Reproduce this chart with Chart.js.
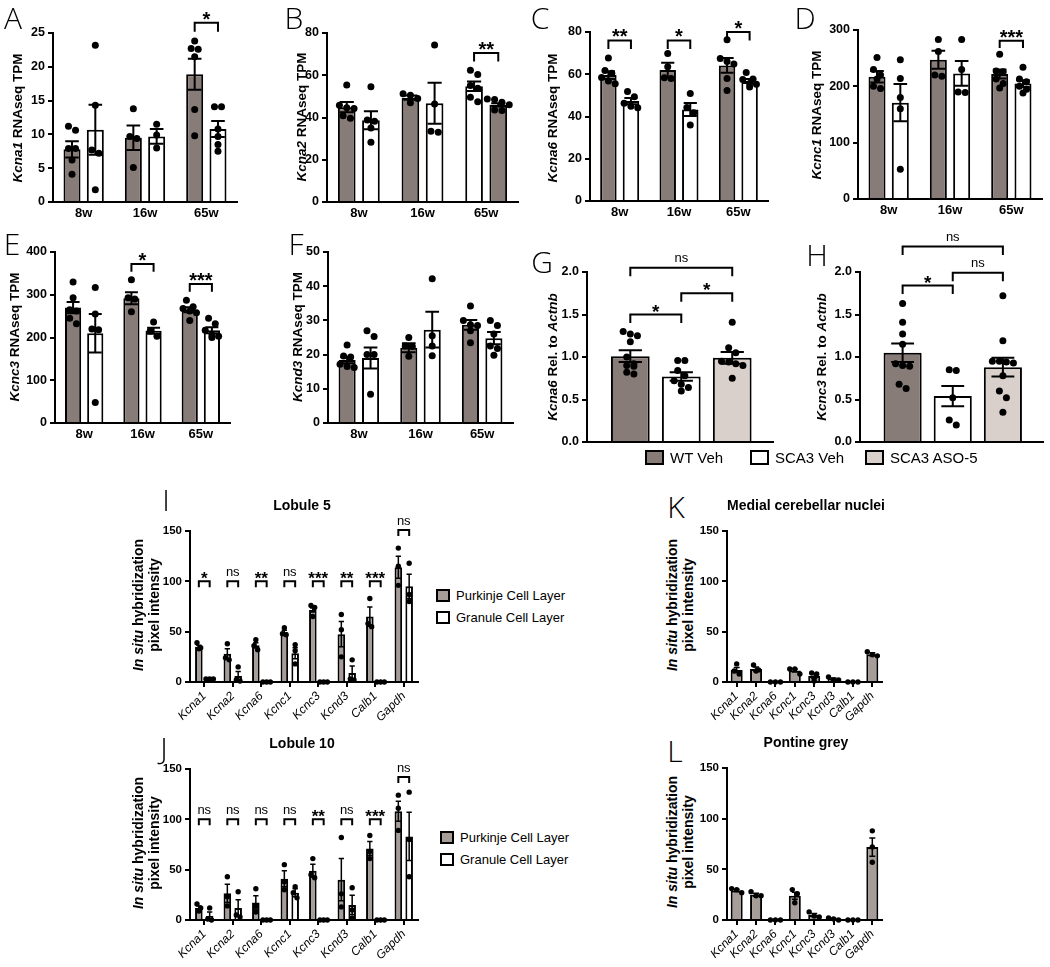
<!DOCTYPE html>
<html>
<head>
<meta charset="utf-8">
<script src="https://cdn.jsdelivr.net/npm/chart.js@4.4.1/dist/chart.umd.min.js"></script>
<style>
  body { margin: 0; background: #fff; }
  #fig { position: relative; width: 1050px; height: 967px; overflow: hidden; background: #fff;
         font-family: 'Liberation Sans', Arial, Helvetica, sans-serif; color: #000; }
  #fig canvas { position: absolute; }
  .lbl { position: absolute; transform: translate(-50%, -50%); white-space: nowrap; line-height: 1; }
  .letter { font-family: 'Open Sans', 'DejaVu Sans', sans-serif; font-weight: 300; font-size: 30px; }
  .ytitle { font-weight: bold; font-size: 13.5px; }
  .ytitle2 { font-weight: bold; font-size: 14px; line-height: 1.15; text-align: center; }
  .ptitle { font-weight: bold; font-size: 14px; }
  .lgbox { position: absolute; box-sizing: border-box; border: 2px solid #000; }
  .lgtxt { position: absolute; transform: translateY(-50%); white-space: nowrap; line-height: 1; }
</style>
</head>
<body>
<div id="fig"></div>
<script>
// ---- data ----
const ageLabels = ['8w', '16w', '65w'];

// A  Kcna1
const kcna1WtMean = [7.8, 9.5, 18.9];
const kcna1WtSem = [1.2, 1.8, 2.3];
const kcna1WtPts = [[11.2, 10.6, 7.9, 7.9, 6.2, 4.1], [13.8, 9.7, 9.4, 5.1], [23.8, 22.7, 22.6, 21.5, 13.7, 9.8]];
const kcna1ScaMean = [10.7, 9.7, 10.8];
const kcna1ScaSem = [3.7, 1.1, 1.2];
const kcna1ScaPts = [[23.2, 14.3, 7.7, 7.2, 1.8], [11.5, 9.9, 8.0], [14.1, 14.1, 10.8, 9.7, 8.5, 7.5]];

// B  Kcna2
const kcna2WtMean = [44.9, 49.4, 54.8];
const kcna2WtSem = [2.4, 1.0, 2.3];
const kcna2WtPts = [[55.4, 45.8, 44.6, 44.3, 40.8, 39.6], [51.2, 50.5, 49.0, 47.0], [62.4, 60.3, 55.2, 53.8, 49.6, 47.5]];
const kcna2ScaMean = [38.7, 46.8, 46.0];
const kcna2ScaSem = [4.3, 9.7, 0.8];
const kcna2ScaPts = [[54.5, 38.8, 38.2, 35.0, 28.3], [74.3, 46.4, 33.5, 33.0], [48.8, 48.5, 47.2, 46.0, 43.5, 43.3]];

// C  Kcna6
const kcna6WtMean = [59.6, 62.0, 64.2];
const kcna6WtSem = [1.8, 3.5, 3.5];
const kcna6WtPts = [[67.7, 61.8, 60.5, 58.5, 56.8, 55.5], [69.8, 63.5, 58.3, 58.0], [76.3, 67.5, 66.0, 64.8, 58.0, 52.3]];
const kcna6ScaMean = [47.3, 43.3, 56.8];
const kcna6ScaSem = [1.5, 3.1, 1.0];
const kcna6ScaPts = [[51.8, 49.3, 46.3, 44.8, 44.2], [50.9, 44.3, 41.8, 36.0], [60.8, 57.8, 57.5, 55.6, 55.3, 54.0]];

// D  Kcnc1
const kcnc1WtMean = [217, 247, 222];
const kcnc1WtSem = [10, 16, 8];
const kcnc1WtPts = [[251, 230, 220, 213, 200, 196], [283, 262, 220, 218], [257, 227, 226, 213, 205, 197]];
const kcnc1ScaMean = [171, 223, 205];
const kcnc1ScaSem = [33, 22, 6];
const kcnc1ScaPts = [[247, 214, 180, 160, 53], [283, 230, 190, 189], [234, 213, 208, 200, 195, 188]];

// E  Kcnc3
const kcnc3WtMean = [270, 292, 265];
const kcnc3WtSem = [13, 14, 6];
const kcnc3WtPts = [[330, 293, 265, 262, 245, 232], [335, 293, 290, 260], [287, 272, 268, 262, 258, 240]];
const kcnc3ScaMean = [210, 216, 217];
const kcnc3ScaSem = [45, 7, 7];
const kcnc3ScaPts = [[317, 255, 220, 218, 48], [236, 215, 203], [245, 232, 217, 206, 203, 200]];

// F  Kcnd3
const kcnd3WtMean = [18.4, 22.0, 28.7];
const kcnd3WtSem = [0.9, 1.3, 1.4];
const kcnd3WtPts = [[22.8, 19.6, 19.3, 17.2, 16.5, 16.2], [25.0, 22.5, 22.4, 19.5], [34.2, 30.0, 28.7, 28.5, 27.0, 23.5]];
const kcnd3ScaMean = [19.0, 27.3, 24.8];
const kcnd3ScaSem = [3.1, 5.2, 1.8];
const kcnd3ScaPts = [[27.0, 25.3, 20.0, 20.0, 8.4], [42.2, 25.5, 22.5, 19.7], [30.0, 28.5, 26.0, 22.5, 21.8, 19.8]];

// G / H  qPCR
const treatLabels = ['WT  Veh', 'SCA3  Veh', 'SCA3 ASO-5'];
const gMean = [1.01, 0.77, 0.99];
const gSem = [0.07, 0.05, 0.07];
const gPts = [[1.30, 1.27, 1.25, 1.18, 1.00, 0.92, 0.90, 0.89, 0.82, 0.80], [0.96, 0.96, 0.84, 0.78, 0.72, 0.68, 0.64, 0.60], [1.41, 1.11, 1.05, 0.95, 0.94, 0.92, 0.90, 0.75]];
const hMean = [1.05, 0.54, 0.88];
const hSem = [0.11, 0.12, 0.11];
const hPts = [[1.63, 1.41, 1.27, 1.15, 0.92, 0.90, 0.89, 0.68, 0.63], [0.85, 0.84, 0.52, 0.26, 0.20], [1.72, 1.19, 0.95, 0.95, 0.94, 0.93, 0.78, 0.60, 0.52, 0.35]];

// I-L  in situ
const geneLabels = ['Kcna1', 'Kcna2', 'Kcna6', 'Kcnc1', 'Kcnc3', 'Kcnd3', 'Calb1', 'Gapdh'];
const lob5PclMean = [35, 28, 36.5, 49.5, 71.5, 47.5, 65, 114];
const lob5PclSem = [1.5, 5, 2.5, 2, 2, 12.5, 9.5, 11];
const lob5PclPts = [[39, 34, 33], [38, 24, 22], [42, 36, 32], [54, 48, 47], [76, 74, 65], [67, 52, 25], [83, 58, 55], [133, 115, 96]];
const lob5GclMean = [3, 6, 0, 28.5, 0, 9, 0, 95];
const lob5GclSem = [0.5, 4.5, 0, 5.5, 0, 7, 0, 12];
const lob5GclPts = [[3, 3, 3], [15, 2, 1], [0, 0, 0], [37, 31, 18], [0, 0, 0], [22, 3, 2], [0, 0, 0], [118, 87, 80]];
const lob5Sig = ['*', 'ns', '**', 'ns', '***', '**', '***', 'ns'];

const lob10PclMean = [12, 26.5, 17.5, 41, 49, 40, 71, 108];
const lob10PclSem = [2, 9, 6.5, 8, 6.5, 21, 7, 10];
const lob10PclPts = [[16, 12, 9], [43, 23, 14], [31, 14, 8], [55, 38, 30], [61, 45, 42], [82, 26, 13], [84, 68, 61], [124, 111, 89]];
const lob10GclMean = [4, 12, 0, 27, 0, 15, 0, 83];
const lob10GclSem = [4, 8, 0, 4, 0, 9.5, 0, 24];
const lob10GclPts = [[12, 1, 0], [28, 5, 3], [0, 0, 0], [33, 27, 22], [0, 0, 0], [32, 10, 2], [0, 0, 0], [127, 80, 43]];
const lob10Sig = ['ns', 'ns', 'ns', 'ns', '**', 'ns', '***', 'ns'];

const mcnMean = [12, 13, 0, 11.5, 6, 3, 0, 27.5];
const mcnSem = [2.5, 2, 0, 1.5, 2.5, 1, 0, 1.5];
const mcnPts = [[18, 11, 8], [17, 12, 11], [0, 0, 0], [13, 13, 8], [9, 8, 1], [5, 2, 2], [0, 0, 0], [30, 27, 26]];

const pgMean = [29, 25, 0, 24, 5, 1, 0, 72];
const pgSem = [1, 1.5, 0, 3.5, 1.5, 0.5, 0, 9];
const pgPts = [[31, 30, 27], [28, 24, 24], [0, 0, 0], [30, 26, 17], [8, 4, 3], [2, 1, 0], [0, 0, 0], [88, 72, 57]];

// ---- styling ----
const DARK = '#877c77';
const LIGHT = '#d9d0cc';
const WHITE = '#ffffff';
const PCL = '#a69d99';
const FAMILY = "'Liberation Sans', Arial, Helvetica, sans-serif";

Chart.defaults.font.family = FAMILY;
Chart.defaults.color = '#000';

const fig = document.getElementById('fig');

// spread dots that would overlap side by side (like a column scatter)
function spread(vals, thr, dx) {
    const idx = vals.map((v, i) => i).sort((a, b) => vals[b] - vals[a]);
    const off = new Array(vals.length).fill(0);
    let k = 0;
    while (k < idx.length) {
        let j = k;
        while (j + 1 < idx.length && vals[idx[k]] - vals[idx[j + 1]] < thr) j++;
        const n = j - k + 1;
        for (let m = 0; m < n; m++) off[idx[k + m]] = (m - (n - 1) / 2) * dx;
        k = j + 1;
    }
    return off;
}

const errorBars = {
    id: 'errorBars',
    afterDatasetDraw(chart, args) {
        const ds = chart.data.datasets[args.index];
        if (!ds.sem) return;
        const ys = chart.scales.y;
        const ctx = chart.ctx;
        ctx.save();
        ctx.strokeStyle = '#000';
        ctx.lineWidth = ds.errW;
        args.meta.data.forEach((bar, i) => {
            const m = ds.data[i].y, s = ds.sem[i];
            if (!s) return;
            const top = ys.getPixelForValue(m + s);
            const bot = ys.getPixelForValue(Math.max(m - s, 0));
            const half = bar.width * ds.capFrac / 2;
            ctx.beginPath();
            ctx.moveTo(bar.x, top); ctx.lineTo(bar.x, bot);
            ctx.moveTo(bar.x - half, top); ctx.lineTo(bar.x + half, top);
            ctx.moveTo(bar.x - half, bot); ctx.lineTo(bar.x + half, bot);
            ctx.stroke();
        });
        ctx.restore();
    }
};

function bracketPlugin(items, p) {
    return {
        id: 'brackets',
        afterDraw(chart) {
            const xs = chart.scales.x, ys = chart.scales.y, ctx = chart.ctx;
            ctx.save();
            ctx.strokeStyle = '#000';
            ctx.fillStyle = '#000';
            ctx.lineWidth = 2;
            ctx.textAlign = 'center';
            ctx.textBaseline = 'alphabetic';
            items.forEach(b => {
                const x1 = xs.getPixelForValue(b.x1), x2 = xs.getPixelForValue(b.x2);
                const yt = ys.getPixelForValue(b.y), yb = ys.getPixelForValue(b.y - b.drop);
                ctx.beginPath();
                ctx.moveTo(x1, yb); ctx.lineTo(x1, yt); ctx.lineTo(x2, yt); ctx.lineTo(x2, yb);
                ctx.stroke();
                const star = b.text.indexOf('*') >= 0;
                ctx.font = star ? `bold ${p.starSize}px ${FAMILY}` : `${p.nsSize}px 'Liberation Sans Narrow', ${FAMILY}`;
                ctx.fillText(b.text, (x1 + x2) / 2, star ? yt + p.starDy : yt - p.nsDy);
            });
            ctx.restore();
        }
    };
}

function makeChart(p) {
    const c = document.createElement('canvas');
    const left = p.box[0] - p.yW, top = p.box[1] - p.pt;
    const w = p.box[2] - p.box[0] + p.yW + p.pr;
    const h = p.box[3] - p.box[1] + p.pt + p.xH;
    c.width = w; c.height = h;
    c.style.left = left + 'px'; c.style.top = top + 'px';
    c.style.width = w + 'px'; c.style.height = h + 'px';
    fig.appendChild(c);

    const datasets = [];
    p.series.forEach(s => {
        datasets.push({
            type: 'bar',
            data: s.mean.map((m, i) => ({ x: s.pos[i], y: m })),
            backgroundColor: s.colors,
            borderColor: '#000',
            borderWidth: 2,
            borderSkipped: 'start',
            grouped: false,
            categoryPercentage: 1,
            barPercentage: p.barPct,
            sem: s.sem, errW: p.errW, capFrac: p.capFrac,
            order: 2
        });
        const dots = [];
        s.pts.forEach((list, i) => {
            const off = spread(list, p.yMax * 0.04, p.dx);
            list.forEach((v, k) => dots.push({ x: s.pos[i] + off[k], y: v }));
        });
        datasets.push({
            type: 'scatter',
            data: dots,
            pointRadius: p.dotR,
            backgroundColor: '#000',
            pointBackgroundColor: '#000',
            pointBorderWidth: 0,
            clip: false,
            order: 0
        });
    });

    const labels = p.xLabels;
    new Chart(c, {
        type: 'bar',
        data: { datasets },
        options: {
            responsive: false,
            animation: false,
            events: [],
            layout: { padding: { top: p.pt, right: p.pr, left: 0, bottom: 0 } },
            plugins: { legend: { display: false }, tooltip: { enabled: false } },
            scales: {
                x: {
                    type: 'linear',
                    offset: false,
                    min: p.xMin, max: p.xMax,
                    afterBuildTicks: s => { s.ticks = labels.map((_, i) => ({ value: i })); },
                    afterFit: s => { s.height = p.xH; },
                    ticks: {
                        autoSkip: false,
                        minRotation: p.xRot, maxRotation: p.xRot,
                        padding: p.xPad,
                        font: p.xFont,
                        callback: v => labels[v] ?? ''
                    },
                    grid: { display: p.xTicks, offset: false, drawOnChartArea: false, drawTicks: p.xTicks, tickLength: 5, color: '#000', lineWidth: 2 },
                    border: { display: true, color: '#000', width: 2 }
                },
                y: {
                    min: 0, max: p.yMax,
                    afterFit: s => { s.width = p.yW; },
                    ticks: {
                        stepSize: p.yStep,
                        padding: 3,
                        font: { weight: 'bold', size: p.tickSize },
                        callback: p.yFmt || (v => v)
                    },
                    grid: { drawOnChartArea: false, tickLength: 5, color: '#000', lineWidth: 2 },
                    border: { display: true, color: '#000', width: 2 }
                }
            }
        },
        plugins: [errorBars, bracketPlugin(p.brackets, p)]
    });
}

// ---- text helpers ----
function label(html, cls, x, y, extra) {
    const d = document.createElement('div');
    d.className = 'lbl ' + cls;
    d.innerHTML = html;
    d.style.left = x + 'px';
    d.style.top = y + 'px';
    if (extra) d.style.transform = extra;
    fig.appendChild(d);
}
const rot = 'translate(-50%, -50%) rotate(-90deg)';

function legendItem(x, y, w, h, color, text, size) {
    const b = document.createElement('div');
    b.className = 'lgbox';
    b.style.left = x + 'px'; b.style.top = (y - h / 2) + 'px';
    b.style.width = w + 'px'; b.style.height = h + 'px';
    b.style.background = color;
    fig.appendChild(b);
    const t = document.createElement('div');
    t.className = 'lgtxt';
    t.textContent = text;
    t.style.left = (x + w + 6) + 'px'; t.style.top = y + 'px';
    t.style.fontSize = size + 'px';
    fig.appendChild(t);
}

// ---- panels ----
const rowPos = off => ageLabels.map((_, i) => i + off);
const genePos = off => geneLabels.map((_, i) => i + off);

const rowCommon = {
    yW: 40, xH: 24, pt: 34, pr: 6, xMin: -0.5, xMax: 2.5,
    barPct: 0.73, dx: 0.115, dotR: 3.5, capFrac: 0.8, errW: 2, tickSize: 12.5,
    xLabels: ageLabels, xRot: 0, xTicks: false, xPad: 4,
    xFont: { weight: 'bold', size: 13 },
    starSize: 20, starDy: 3, nsSize: 13, nsDy: 6
};

function rowPanel(box, yMax, yStep, wt, sca, brackets, wtColors, scaColors) {
    makeChart({
        ...rowCommon, box, yMax, yStep,
        series: [
            { pos: rowPos(-0.19), mean: wt[0], sem: wt[1], pts: wt[2], colors: wtColors || [DARK, DARK, DARK] },
            { pos: rowPos(0.19), mean: sca[0], sem: sca[1], pts: sca[2], colors: scaColors || [WHITE, WHITE, WHITE] }
        ],
        brackets: brackets.map(b => ({ x1: b[0] - 0.19, x2: b[0] + 0.19, y: b[1], drop: b[2], text: b[3] }))
    });
}

rowPanel([53, 33, 237, 202], 25, 5, [kcna1WtMean, kcna1WtSem, kcna1WtPts], [kcna1ScaMean, kcna1ScaSem, kcna1ScaPts],
    [[2, 26.5, 1.3, '*']]);
rowPanel([327, 33, 518, 202], 80, 20, [kcna2WtMean, kcna2WtSem, kcna2WtPts], [kcna2ScaMean, kcna2ScaSem, kcna2ScaPts],
    [[2, 70.5, 4, '**']], [DARK, DARK, WHITE], [WHITE, WHITE, DARK]);
rowPanel([590, 32, 768, 201], 80, 20, [kcna6WtMean, kcna6WtSem, kcna6WtPts], [kcna6ScaMean, kcna6ScaSem, kcna6ScaPts],
    [[0, 76, 4, '**'], [1, 76, 4, '*'], [2, 80, 4, '*']]);
rowPanel([858, 30, 1042, 199], 300, 100, [kcnc1WtMean, kcnc1WtSem, kcnc1WtPts], [kcnc1ScaMean, kcnc1ScaSem, kcnc1ScaPts],
    [[2, 281, 13, '***']]);
rowPanel([55, 252, 230, 423], 400, 100, [kcnc3WtMean, kcnc3WtSem, kcnc3WtPts], [kcnc3ScaMean, kcnc3ScaSem, kcnc3ScaPts],
    [[1, 372, 18, '*'], [2, 325, 18, '***']]);
rowPanel([328, 252, 513, 423], 50, 10, [kcnd3WtMean, kcnd3WtSem, kcnd3WtPts], [kcnd3ScaMean, kcnd3ScaSem, kcnd3ScaPts], []);

function qpcrPanel(box, mean, sem, pts, brackets, pt) {
    makeChart({
        yW: 42, xH: 12, pt, pr: 6, xMin: -0.85, xMax: 2.8,
        barPct: 0.76, dx: 0.14, dotR: 3.5, capFrac: 0.6, errW: 2, tickSize: 12.5,
        xLabels: ['', '', ''], xRot: 0, xTicks: false, xPad: 0, xFont: { size: 10 },
        starSize: 19, starDy: 3, nsSize: 13, nsDy: 6,
        box, yMax: 2, yStep: 0.5, yFmt: v => v.toFixed(1),
        series: [{ pos: [0, 1, 2], mean, sem, pts, colors: [DARK, WHITE, LIGHT] }],
        brackets: brackets.map(b => ({ x1: b[0], x2: b[1], y: b[2], drop: 0.1, text: b[3] }))
    });
}
qpcrPanel([587, 272, 773, 442], gMean, gSem, gPts, [[0, 1, 1.50, '*'], [1, 2, 1.75, '*'], [0, 2, 2.05, 'ns']], 36);
qpcrPanel([860, 272, 1043, 442], hMean, hSem, hPts, [[0, 1, 1.84, '*'], [1, 2, 1.99, 'ns'], [0, 2, 2.30, 'ns']], 50);

const geneCommon = {
    yW: 30, xH: 50, pt: 26, pr: 8, xMin: -0.5, xMax: 7.5,
    dotR: 2.7, errW: 1.5, tickSize: 11.5, yMax: 150, yStep: 50,
    xLabels: geneLabels, xRot: 45, xTicks: true, xPad: 2,
    xFont: { style: 'italic', size: 12 },
    starSize: 17, starDy: 3, nsSize: 13, nsDy: 5
};

function lobulePanel(box, pcl, gcl, sig, gapTop) {
    makeChart({
        ...geneCommon, box, barPct: 0.7, dx: 0.13, capFrac: 0.7,
        series: [
            { pos: genePos(-0.19), mean: pcl[0], sem: pcl[1], pts: pcl[2], colors: geneLabels.map(() => PCL) },
            { pos: genePos(0.19), mean: gcl[0], sem: gcl[1], pts: gcl[2], colors: geneLabels.map(() => WHITE) }
        ],
        brackets: sig.map((t, i) => ({ x1: i - 0.19, x2: i + 0.19, y: i === 7 ? gapTop : 100, drop: 6, text: t }))
    });
}
lobulePanel([190, 531, 418, 682], [lob5PclMean, lob5PclSem, lob5PclPts], [lob5GclMean, lob5GclSem, lob5GclPts], lob5Sig, 151);
lobulePanel([190, 769, 418, 920], [lob10PclMean, lob10PclSem, lob10PclPts], [lob10GclMean, lob10GclSem, lob10GclPts], lob10Sig, 142);

function regionPanel(box, mean, sem, pts) {
    makeChart({
        ...geneCommon, box, barPct: 0.62, dx: 0.26, capFrac: 0.5,
        series: [{ pos: genePos(0), mean, sem, pts, colors: geneLabels.map(() => PCL) }],
        brackets: []
    });
}
regionPanel([727, 531, 882, 682], mcnMean, mcnSem, mcnPts);
regionPanel([727, 768, 882, 920], pgMean, pgSem, pgPts);

// ---- letters, titles, legends ----
[['A', 13, 18], ['B', 294, 18], ['C', 540, 18], ['D', 805, 18],
 ['E', 12, 244], ['F', 296, 244], ['G', 542, 262], ['H', 817, 255],
 ['I', 166, 500], ['J', 164, 748], ['K', 676, 507], ['L', 675, 751]]
    .forEach(l => label(l[0], 'letter', l[1], l[2]));

label('<i>Kcna1</i> RNAseq TPM', 'ytitle', 18, 118, rot);
label('<i>Kcna2</i> RNAseq TPM', 'ytitle', 302, 117, rot);
label('<i>Kcna6</i> RNAseq TPM', 'ytitle', 553, 118, rot);
label('<i>Kcnc1</i> RNAseq TPM', 'ytitle', 817, 115, rot);
label('<i>Kcnc3</i> RNAseq TPM', 'ytitle', 15, 337, rot);
label('<i>Kcnd3</i> RNAseq TPM', 'ytitle', 298, 337, rot);
label('<i>Kcna6</i> Rel. to <i>Actnb</i>', 'ytitle', 553, 357, rot);
label('<i>Kcnc3</i> Rel. to <i>Actnb</i>', 'ytitle', 822, 357, rot);

const ishTitle = '<i>In situ</i> hybridization<br>pixel intensity';
label(ishTitle, 'ytitle2', 146, 605, rot);
label(ishTitle, 'ytitle2', 146, 843, rot);
label(ishTitle, 'ytitle2', 680, 605, rot);
label(ishTitle, 'ytitle2', 680, 842, rot);

label('Lobule 5', 'ptitle', 302, 505);
label('Lobule 10', 'ptitle', 302, 743);
label('Medial cerebellar nuclei', 'ptitle', 806, 505);
label('Pontine grey', 'ptitle', 806, 742);

legendItem(645, 457, 19, 15, DARK, treatLabels[0], 15);
legendItem(750, 457, 19, 15, WHITE, treatLabels[1], 15);
legendItem(865, 457, 19, 15, LIGHT, treatLabels[2], 15);

legendItem(436, 595, 14, 13, PCL, 'Purkinje Cell Layer', 13);
legendItem(436, 617, 14, 13, WHITE, 'Granule Cell Layer', 13);
legendItem(440, 837, 14, 13, PCL, 'Purkinje Cell Layer', 13);
legendItem(440, 859, 14, 13, WHITE, 'Granule Cell Layer', 13);
</script>
</body>
</html>
